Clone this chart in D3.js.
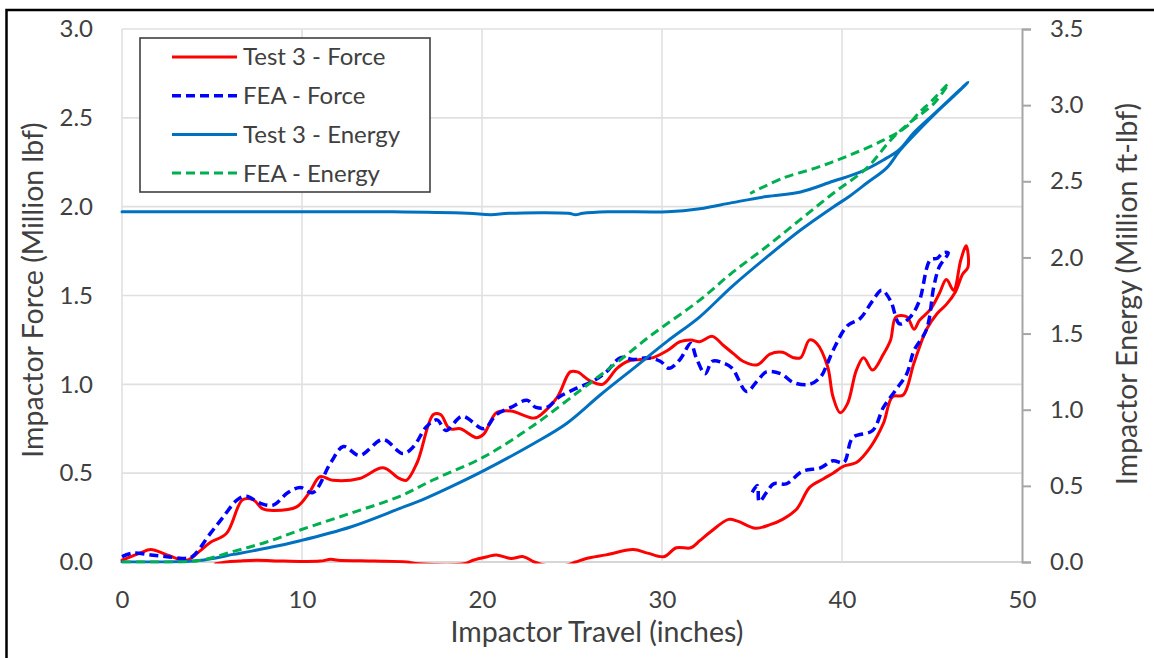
<!DOCTYPE html>
<html>
<head>
<meta charset="utf-8">
<script src="https://cdn.jsdelivr.net/npm/d3@7/dist/d3.min.js"></script>
<style>
  html, body { margin: 0; padding: 0; background: #fff; }
  svg { display: block; }
  text { font-family: Lato, "Open Sans", sans-serif; fill: #404040; }
</style>
</head>
<body>
<div id="chart"></div>
<script>
// Impactor travel (inches) vs force (Million lbf, left) and energy (Million ft-lbf, right)

const xTicks = [0, 10, 20, 30, 40, 50];
const forceTicks = [0, 0.5, 1.0, 1.5, 2.0, 2.5, 3.0];
const energyTicks = [0, 0.5, 1.0, 1.5, 2.0, 2.5, 3.0, 3.5];

const seriesNames = ["Test 3 - Force", "FEA - Force", "Test 3 - Energy", "FEA - Energy"];

// Test 3 - Force: loading stroke then unloading back along the lower branch
const test3ForceTravel = [
  0, 0.5, 1.0, 1.6, 2.5, 3.6, 4.3, 4.9, 5.8, 6.7, 7.3, 7.8, 8.4, 9.7, 10.4, 11.0, 11.7, 13.2, 14.5,
  15.4, 15.8, 16.4, 17.3, 17.7, 18.2, 18.8, 19.7, 20.1, 20.8, 21.6, 22.9, 23.4, 24.2, 24.9, 25.3,
  26.0, 26.7, 27.5, 28.1, 28.8, 29.5, 30.3, 31.0, 31.6, 32.1, 32.8, 33.4, 34.0, 34.5, 35.3, 36.0,
  36.7, 37.3, 37.7, 38.2, 38.6, 39.2, 39.5, 39.9, 40.3, 40.8, 41.2, 41.7, 42.3, 42.7, 43.0, 43.6,
  44.0, 44.3, 44.9, 45.4, 45.8, 46.2, 46.6, 46.9, 47.0,
  46.7, 46.3, 45.8, 45.3, 44.7, 44.0, 43.4, 42.8, 42.3, 41.6, 40.8, 40.1, 39.5, 39.0, 38.2, 37.5,
  36.7, 36.0, 35.2, 34.2, 33.7, 32.7, 32.1, 31.6, 30.8, 30.1, 29.2, 28.4, 26.9, 25.8, 25.2, 24.6,
  23.6, 22.9, 22.3, 21.6, 20.8, 20.3, 19.5, 19.0, 16.5, 15.8, 14.0, 12.0, 11.6, 11.0, 9.0, 7.5,
  6.5, 5.8, 5.2
];
const test3ForceValue = [
  0.01, 0.03, 0.05, 0.07, 0.04, 0.01, 0.06, 0.11, 0.16, 0.35, 0.35, 0.30, 0.29, 0.31, 0.39, 0.48, 0.46, 0.47, 0.53,
  0.47, 0.46, 0.56, 0.83, 0.83, 0.75, 0.75, 0.70, 0.72, 0.84, 0.85, 0.81, 0.84, 0.93, 1.07, 1.07,
  1.02, 1.00, 1.09, 1.13, 1.14, 1.15, 1.19, 1.24, 1.25, 1.24, 1.27, 1.22, 1.17, 1.13, 1.11, 1.17,
  1.18, 1.15, 1.15, 1.25, 1.23, 1.10, 0.93, 0.84, 0.89, 1.08, 1.15, 1.08, 1.17, 1.25, 1.38, 1.38,
  1.31, 1.36, 1.42, 1.51, 1.59, 1.53, 1.70, 1.78, 1.66,
  1.62, 1.52, 1.45, 1.40, 1.31, 1.12, 0.94, 0.93, 0.78, 0.65, 0.56, 0.54, 0.50, 0.47, 0.42, 0.30,
  0.24, 0.21, 0.19, 0.23, 0.24, 0.17, 0.12, 0.08, 0.08, 0.03, 0.05, 0.07, 0.04, 0.02, 0.00, -0.02,
  -0.02, 0.00, 0.03, 0.02, 0.04, 0.03, 0.01, -0.01, -0.01, 0.00, 0.005, 0.01, 0.015, 0.005, 0.005, 0.01,
  0.005, 0.0, -0.01
];

// FEA - Force
const feaForceTravel = [
  0, 0.6, 1.6, 2.5, 3.4, 3.9, 4.9, 5.6, 6.4, 6.9, 7.7, 8.4, 9.2, 9.9, 10.6, 11.6, 12.3, 13.2, 14.5,
  15.6, 16.2, 16.9, 17.5, 18.0, 18.9, 20.1, 20.8, 21.6, 22.5, 23.0, 23.6, 24.3, 25.3, 26.2, 26.9,
  27.7, 28.4, 29.2, 29.9, 30.4, 31.0, 31.6, 31.9, 32.4, 32.8, 33.4, 33.9, 34.7, 35.3, 35.8, 36.6,
  37.3, 38.2, 38.8, 39.2, 39.5, 40.3, 41.0, 41.7, 42.2, 42.7, 43.2, 43.8, 44.3, 44.9, 45.3, 45.6, 45.9,
  45.4, 45.1, 44.7, 44.0, 43.6, 43.0, 42.3, 41.7, 40.6, 40.1, 39.5, 38.8, 37.8, 36.9, 36.2, 35.8,
  35.4, 35.3, 35.0
];
const feaForceValue = [
  0.03, 0.05, 0.04, 0.03, 0.02, 0.03, 0.16, 0.25, 0.35, 0.37, 0.33, 0.32, 0.39, 0.42, 0.39, 0.56, 0.65, 0.60, 0.69,
  0.61, 0.65, 0.76, 0.80, 0.74, 0.82, 0.75, 0.83, 0.87, 0.91, 0.87, 0.87, 0.93, 0.98, 1.02, 1.07,
  1.15, 1.14, 1.15, 1.13, 1.09, 1.14, 1.23, 1.15, 1.06, 1.13, 1.12, 1.09, 0.96, 1.02, 1.07, 1.06,
  1.01, 1.00, 1.04, 1.12, 1.19, 1.33, 1.37, 1.47, 1.53, 1.47, 1.34, 1.38, 1.47, 1.70, 1.71, 1.74, 1.74,
  1.66, 1.55, 1.31, 1.19, 1.06, 0.97, 0.87, 0.74, 0.70, 0.56, 0.57, 0.53, 0.51, 0.44, 0.44, 0.39,
  0.34, 0.43, 0.39
];

// Test 3 - Energy: loading curve, then retained energy on the return
const test3EnergyTravel = [
  0, 2.0, 4.3, 6.2, 8.0, 9.9, 12.7, 15.4, 16.9, 18.2, 20.1, 22.9, 24.7, 26.6, 28.4, 30.3, 32.1,
  33.9, 35.8, 37.7, 39.5, 40.4, 41.4, 42.5, 43.2, 44.3, 45.4, 46.4, 47.0,
  46.0, 45.0, 44.0, 43.2, 42.3, 41.0, 39.5, 37.7, 35.8, 33.9, 32.1, 30.3, 27.0, 25.6, 25.2, 24.8,
  21.5, 20.5, 19.2, 15.0, 10.0, 5.0, 0
];
const test3EnergyValue = [
  0, 0.0, 0.01, 0.05, 0.09, 0.14, 0.23, 0.35, 0.42, 0.49, 0.60, 0.78, 0.91, 1.10, 1.27, 1.45, 1.61,
  1.81, 2.00, 2.18, 2.33, 2.40, 2.49, 2.59, 2.70, 2.84, 2.97, 3.08, 3.15,
  3.04, 2.93, 2.82, 2.71, 2.64, 2.56, 2.50, 2.43, 2.40, 2.36, 2.32, 2.30, 2.30, 2.29, 2.28, 2.29,
  2.29, 2.28, 2.29, 2.30, 2.30, 2.30, 2.30
];

// FEA - Energy
const feaEnergyTravel = [
  0, 2.0, 4.3, 6.2, 8.0, 9.9, 12.7, 15.4, 17.3, 20.1, 22.9, 25.6, 27.5, 29.3, 32.1, 33.9, 35.8, 37.7,
  39.5, 41.4, 42.7, 43.6, 45.1, 45.9,
  45.0, 44.2, 43.6, 42.3, 40.4, 38.6, 36.7, 34.9
];
const feaEnergyValue = [
  0, 0.0, 0.01, 0.07, 0.13, 0.21, 0.32, 0.43, 0.54, 0.69, 0.90, 1.14, 1.31, 1.48, 1.72, 1.90, 2.07, 2.25,
  2.42, 2.59, 2.77, 2.87, 3.01, 3.14,
  3.03, 2.94, 2.86, 2.77, 2.67, 2.59, 2.52, 2.42
];

const W = 1154, H = 658;
const plot = { left: 122, right: 1022, top: 29, bottom: 562 };

const svg = d3.select("#chart").append("svg")
  .attr("width", W).attr("height", H);

const x = d3.scaleLinear().domain([0, 50]).range([plot.left, plot.right]);
const yF = d3.scaleLinear().domain([0, 3.0]).range([plot.bottom, plot.top]);
const yE = d3.scaleLinear().domain([0, 3.5]).range([plot.bottom, plot.top]);

// outer frame
svg.append("rect")
  .attr("x", 6.5).attr("y", 10).attr("width", W + 20).attr("height", H + 20)
  .attr("fill", "none").attr("stroke", "#000").attr("stroke-width", 2.5);

// gridlines
const grid = svg.append("g");
grid.selectAll("line.h").data(forceTicks).join("line")
  .attr("x1", plot.left).attr("x2", plot.right)
  .attr("y1", d => yF(d)).attr("y2", d => yF(d))
  .attr("stroke", d => d === 0 ? "#c8c8c8" : "#e0e0e0").attr("stroke-width", 1.6);
grid.selectAll("line.v").data(xTicks.slice(0, -1)).join("line")
  .attr("x1", d => x(d)).attr("x2", d => x(d))
  .attr("y1", plot.top).attr("y2", plot.bottom)
  .attr("stroke", "#e0e0e0").attr("stroke-width", 1.6);

// axes
const fmt = d3.format(".1f");
const xAxis = svg.append("g").attr("transform", `translate(0,${plot.bottom})`)
  .call(d3.axisBottom(x).tickValues(xTicks).tickSize(0).tickPadding(29).tickFormat(d3.format("d")));
const leftAxis = svg.append("g").attr("transform", `translate(${plot.left},0)`)
  .call(d3.axisLeft(yF).tickValues(forceTicks).tickSize(0).tickPadding(29).tickFormat(fmt));
const rightAxis = svg.append("g").attr("transform", `translate(${plot.right},0)`)
  .call(d3.axisRight(yE).tickValues(energyTicks).tickSize(9).tickPadding(19).tickFormat(fmt));

[xAxis, leftAxis].forEach(g => g.select(".domain").remove());
rightAxis.select(".domain").attr("stroke", "#a6a6a6").attr("stroke-width", 2);
rightAxis.selectAll(".tick line").attr("stroke", "#a6a6a6").attr("stroke-width", 2);
[xAxis, leftAxis, rightAxis].forEach(g => g.selectAll(".tick text")
  .style("font-family", "Lato, sans-serif").style("font-size", "24px").attr("fill", "#404040"));

// axis titles
const titleSize = "28.5px";
svg.append("text").attr("x", 597).attr("y", 642).attr("text-anchor", "middle")
  .style("font-size", titleSize).text("Impactor Travel (inches)");
svg.append("text").attr("transform", "translate(43,290) rotate(-90)").attr("text-anchor", "middle")
  .style("font-size", titleSize).text("Impactor Force (Million lbf)");
svg.append("text").attr("transform", "translate(1137,294) rotate(-90)").attr("text-anchor", "middle")
  .style("font-size", titleSize).text("Impactor Energy (Million ft-lbf)");

// series
const styles = [
  { color: "#ff0000", dash: null, width: 3 },
  { color: "#0000ff", dash: "9,5", width: 3.5 },
  { color: "#0070c0", dash: null, width: 3 },
  { color: "#00b050", dash: "9,5", width: 3 }
];
const seriesData = [
  { tx: test3ForceTravel, v: test3ForceValue, y: yF },
  { tx: feaForceTravel, v: feaForceValue, y: yF },
  { tx: test3EnergyTravel, v: test3EnergyValue, y: yE },
  { tx: feaEnergyTravel, v: feaEnergyValue, y: yE }
];

svg.append("clipPath").attr("id", "plot-clip").append("rect")
  .attr("x", plot.left - 2).attr("y", plot.top - 4)
  .attr("width", plot.right - plot.left + 4).attr("height", plot.bottom - plot.top + 5.5);

const lines = svg.append("g").attr("clip-path", "url(#plot-clip)");
seriesData.forEach((s, i) => {
  const pts = s.tx.map((t, j) => [t, s.v[j]]);
  const line = d3.line().x(d => x(d[0])).y(d => s.y(d[1])).curve(d3.curveCatmullRom.alpha(0.5));
  lines.append("path").datum(pts)
    .attr("d", line)
    .attr("fill", "none")
    .attr("stroke", styles[i].color)
    .attr("stroke-width", styles[i].width)
    .attr("stroke-dasharray", styles[i].dash)
    .attr("stroke-linejoin", "round")
    .attr("stroke-linecap", styles[i].dash ? "butt" : "round");
});

// legend
const legend = svg.append("g");
legend.append("rect").attr("x", 140).attr("y", 38).attr("width", 290).attr("height", 154)
  .attr("fill", "#fff").attr("stroke", "#404040").attr("stroke-width", 1.6);
seriesNames.forEach((name, i) => {
  const cy = 57 + i * 38.7;
  legend.append("line").attr("x1", 172).attr("x2", 237).attr("y1", cy).attr("y2", cy)
    .attr("stroke", styles[i].color).attr("stroke-width", styles[i].width)
    .attr("stroke-dasharray", styles[i].dash);
  legend.append("text").attr("x", 243).attr("y", cy).attr("dy", "0.35em")
    .style("font-size", "24px").text(name);
});
</script>
</body>
</html>
